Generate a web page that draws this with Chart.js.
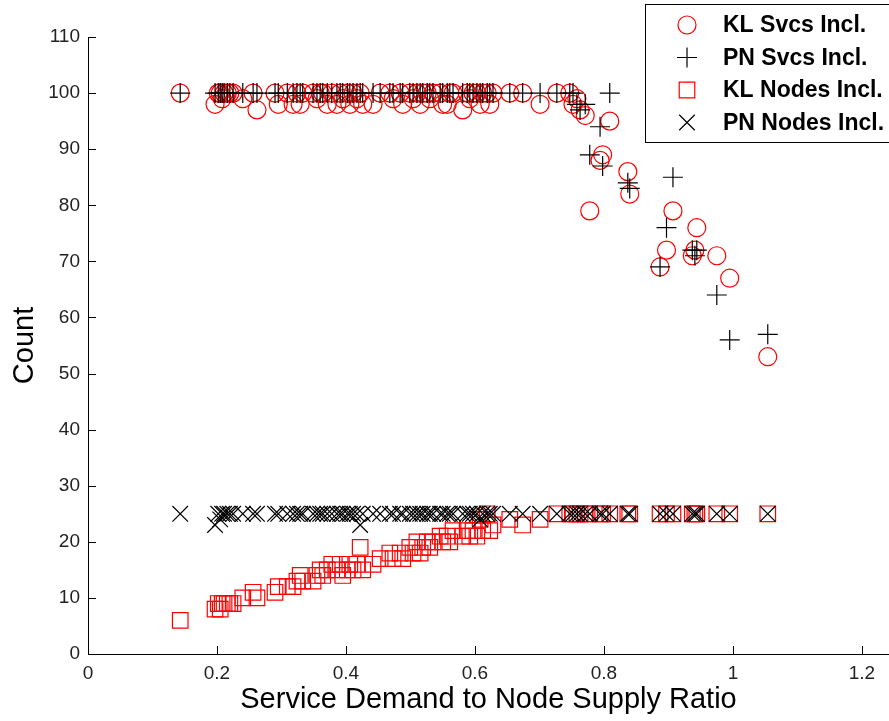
<!DOCTYPE html>
<html>
<head>
<meta charset="utf-8">
<script src="https://cdn.jsdelivr.net/npm/chart.js@4.4.1/dist/chart.umd.min.js"></script>
<style>
  html, body { margin: 0; padding: 0; background: #fff; }
  #wrap { width: 889px; height: 721px; position: relative; }
</style>
</head>
<body>
<div id="wrap"><canvas id="c" width="889" height="721"></canvas></div>
<script>
// Service demand to node supply ratio of each run
const ratios = [
  0.143, 0.197, 0.202, 0.205, 0.208, 0.211, 0.216, 0.220, 0.225, 0.240,
  0.256, 0.262, 0.290, 0.295, 0.309, 0.318, 0.324, 0.329, 0.333, 0.349,
  0.355, 0.360, 0.364, 0.371, 0.378, 0.386, 0.391, 0.395, 0.402, 0.406,
  0.411, 0.417, 0.422, 0.426, 0.442, 0.453, 0.468, 0.473, 0.484, 0.488,
  0.499, 0.504, 0.510, 0.515, 0.519, 0.526, 0.530, 0.535, 0.546, 0.550,
  0.557, 0.561, 0.566, 0.581, 0.588, 0.592, 0.597, 0.603, 0.608, 0.612,
  0.619, 0.623, 0.628, 0.654, 0.674, 0.701, 0.727, 0.747, 0.752, 0.758,
  0.763, 0.771, 0.778, 0.794, 0.798, 0.809, 0.837, 0.840, 0.887, 0.897,
  0.907, 0.937, 0.941, 0.944, 0.975, 0.995, 1.054
];

// Services included (KL heuristic)
const klSvcs = [
  100, 98, 100, 100, 99, 100, 100, 100, 100, 99,
  100, 97, 100, 98, 100, 98, 100, 98, 100, 100,
  99, 100, 100, 98, 100, 98, 100, 99, 100, 98,
  100, 99, 100, 98, 98, 100, 100, 99, 100, 98,
  100, 99, 100, 98, 100, 100, 99, 100, 100, 98,
  98, 100, 100, 97, 100, 99, 100, 100, 98, 100,
  100, 98, 100, 100, 100, 98, 100, 100, 98, 99,
  97, 96, 79, 88, 89, 95, 86, 82, 69, 72,
  79, 71, 72, 76, 71, 67, 53
];

// Services included (PN heuristic)
const pnSvcs = [
  100, 100, 100, 100, 100, 100, 100, 100, 100, 100,
  100, 100, 100, 100, 100, 100, 100, 100, 100, 100,
  100, 100, 100, 100, 100, 100, 100, 100, 100, 100,
  100, 100, 100, 100, 100, 100, 100, 100, 100, 100,
  100, 100, 100, 100, 100, 100, 100, 100, 100, 100,
  100, 100, 100, 100, 100, 100, 100, 100, 100, 100,
  100, 100, 100, 100, 100, 100, 100, 100, 100, 98,
  97, 98, 89, 94, 87, 100, 84, 83, 69, 76,
  85, 72, 71, 72, 64, 56, 57
];

// Nodes included (KL heuristic)
const klNodes = [
  6, 8, 9, 8, 9, 9, 9, 9, 9, 10,
  11, 10, 11, 12, 12, 12, 13, 14, 13, 13,
  14, 15, 14, 15, 16, 15, 16, 14, 15, 16,
  15, 16, 19, 15, 16, 17, 18, 17, 18, 17,
  19, 18, 20, 18, 19, 20, 19, 20, 21, 20,
  21, 20, 22, 21, 22, 21, 22, 21, 24, 22,
  25, 22, 23, 24, 23, 24, 25, 25, 25, 25,
  25, 25, 25, 25, 25, 25, 25, 25, 25, 25,
  25, 25, 25, 25, 25, 25, 25
];

// Nodes included (PN heuristic)
const pnNodes = [
  25, 23, 25, 24, 25, 25, 25, 25, 25, 25,
  25, 25, 25, 25, 25, 25, 25, 25, 25, 25,
  25, 25, 25, 25, 25, 25, 25, 25, 25, 25,
  25, 25, 23, 25, 25, 25, 25, 25, 25, 25,
  25, 25, 25, 25, 25, 25, 25, 25, 25, 25,
  25, 25, 25, 25, 25, 25, 25, 25, 24, 25,
  25, 25, 25, 25, 25, 25, 25, 25, 25, 25,
  25, 25, 25, 25, 25, 25, 25, 25, 25, 25,
  25, 25, 25, 25, 25, 25, 25
];

const xTicks = [0, 0.2, 0.4, 0.6, 0.8, 1, 1.2];
const yTicks = [0, 10, 20, 30, 40, 50, 60, 70, 80, 90, 100, 110];
const seriesNames = ['KL Svcs Incl.', 'PN Svcs Incl.', 'KL Nodes Incl.', 'PN Nodes Incl.'];

const toPoints = arr => ratios.map((x, i) => ({ x: x, y: arr[i] }));

const RED = '#ff0000';
const BLACK = '#000000';
const NONE = 'rgba(0,0,0,0)';
const FONT = '"Liberation Sans", Arial, sans-serif';

const markerStyles = [
  { pointStyle: 'circle',   radius: 9,  color: RED },
  { pointStyle: 'cross',    radius: 10, color: BLACK },
  { pointStyle: 'rect',     radius: 11, color: RED },
  { pointStyle: 'crossRot', radius: 11, color: BLACK }
];

const seriesValues = [klSvcs, pnSvcs, klNodes, pnNodes];

const datasets = seriesValues.map((vals, i) => ({
  label: seriesNames[i],
  data: toPoints(vals),
  pointStyle: markerStyles[i].pointStyle,
  pointRadius: markerStyles[i].radius,
  pointHoverRadius: markerStyles[i].radius,
  pointBorderWidth: 1.2,
  pointBorderColor: markerStyles[i].color,
  pointBackgroundColor: NONE,
  showLine: false,
  order: 3 - i,
  clip: false
}));

// Inward tick marks on both axes
const inwardTicks = {
  id: 'inwardTicks',
  afterDatasetsDraw(chart) {
    const ctx = chart.ctx;
    const xs = chart.scales.x, ys = chart.scales.y;
    const area = chart.chartArea;
    ctx.save();
    ctx.strokeStyle = '#000';
    ctx.lineWidth = 1;
    ctx.beginPath();
    xTicks.forEach(v => {
      const px = Math.round(xs.getPixelForValue(v)) + 0.5;
      ctx.moveTo(px, area.bottom);
      ctx.lineTo(px, area.bottom - 8);
    });
    yTicks.forEach(v => {
      const py = Math.round(ys.getPixelForValue(v)) + 0.5;
      ctx.moveTo(area.left, py);
      ctx.lineTo(area.left + 8, py);
    });
    ctx.stroke();
    ctx.restore();
  }
};

// Boxed legend in the upper right corner
const boxLegend = {
  id: 'boxLegend',
  afterDraw(chart) {
    const ctx = chart.ctx;
    const left = 645.5, top = 4.5, right = 900, bottom = 142.5;
    ctx.save();
    ctx.fillStyle = '#fff';
    ctx.fillRect(left, top, right - left, bottom - top);
    ctx.strokeStyle = '#000';
    ctx.lineWidth = 1;
    ctx.strokeRect(left, top, right - left, bottom - top);
    const rows = [25, 57.5, 90, 122.5];
    const mx = 687;
    rows.forEach((y, i) => {
      const st = markerStyles[i];
      ctx.strokeStyle = st.color;
      ctx.lineWidth = 1.2;
      ctx.beginPath();
      if (st.pointStyle === 'circle') {
        ctx.arc(mx, y, st.radius, 0, Math.PI * 2);
      } else if (st.pointStyle === 'cross') {
        ctx.moveTo(mx - st.radius, y); ctx.lineTo(mx + st.radius, y);
        ctx.moveTo(mx, y - st.radius); ctx.lineTo(mx, y + st.radius);
      } else if (st.pointStyle === 'rect') {
        const h = st.radius * Math.SQRT1_2;
        ctx.rect(mx - h, y - h, 2 * h, 2 * h);
      } else {
        const h = st.radius * Math.SQRT1_2;
        ctx.moveTo(mx - h, y - h); ctx.lineTo(mx + h, y + h);
        ctx.moveTo(mx - h, y + h); ctx.lineTo(mx + h, y - h);
      }
      ctx.stroke();
      ctx.fillStyle = '#000';
      ctx.font = 'bold 23px ' + FONT;
      ctx.textBaseline = 'middle';
      ctx.textAlign = 'left';
      ctx.fillText(seriesNames[i], 723, y + 1);
    });
    ctx.restore();
  }
};

new Chart(document.getElementById('c'), {
  type: 'scatter',
  data: { datasets: datasets },
  plugins: [inwardTicks, boxLegend],
  options: {
    responsive: false,
    animation: false,
    devicePixelRatio: 1,
    layout: { autoPadding: false, padding: { top: 37, right: 0, left: 0, bottom: 0 } },
    plugins: {
      legend: { display: false },
      tooltip: { enabled: false }
    },
    scales: {
      x: {
        type: 'linear',
        min: 0,
        max: 1.242,
        afterBuildTicks(scale) { scale.ticks = xTicks.map(v => ({ value: v })); },
        afterFit(scale) {
          scale.height = 67;
          scale.paddingLeft = 0;
          scale.paddingRight = 0;
        },
        grid: { display: true, drawOnChartArea: false, drawTicks: false },
        border: { display: true, color: '#000', width: 1 },
        ticks: {
          padding: 8,
          color: '#222',
          font: { family: FONT, size: 19 },
          maxRotation: 0,
          callback: v => String(Math.round(v * 10) / 10)
        },
        title: {
          display: true,
          text: 'Service Demand to Node Supply Ratio',
          color: '#000',
          font: { family: FONT, size: 29 },
          padding: { top: 0, bottom: 4 }
        }
      },
      y: {
        type: 'linear',
        min: 0,
        max: 110,
        afterBuildTicks(scale) { scale.ticks = yTicks.map(v => ({ value: v })); },
        afterFit(scale) {
          scale.width = 88;
          scale.paddingTop = 0;
          scale.paddingBottom = 0;
        },
        grid: { display: true, drawOnChartArea: false, drawTicks: false },
        border: { display: true, color: '#000', width: 1 },
        ticks: {
          padding: 8,
          color: '#222',
          font: { family: FONT, size: 19 }
        },
        title: {
          display: true,
          text: 'Count',
          color: '#000',
          font: { family: FONT, size: 29 },
          padding: { top: 8, bottom: 0 }
        }
      }
    }
  }
});
</script>
</body>
</html>
